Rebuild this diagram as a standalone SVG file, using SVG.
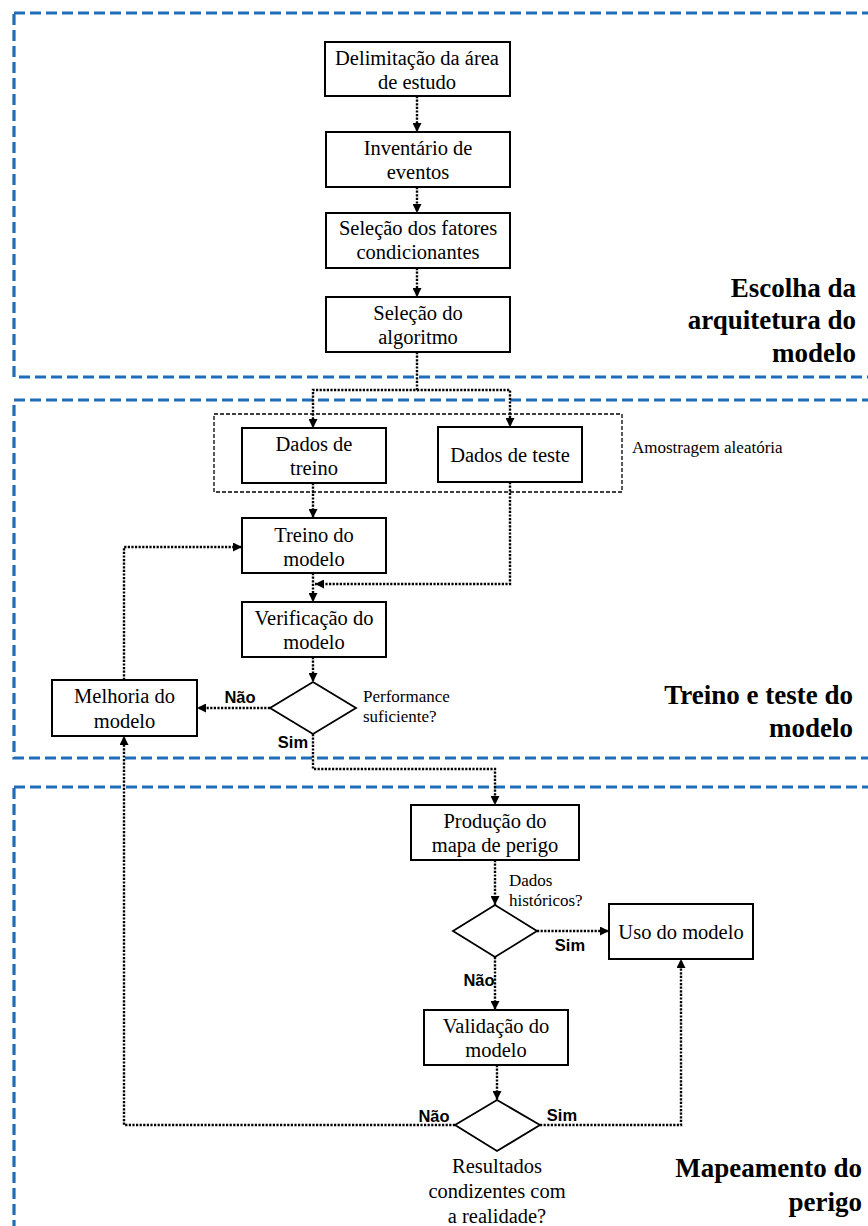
<svg xmlns="http://www.w3.org/2000/svg" width="868" height="1226" viewBox="0 0 868 1226">
  <style>
    .phase { fill: none; stroke: #1f6db7; stroke-width: 3.2; stroke-dasharray: 11 5; }
    .box { fill: #ffffff; stroke: #000000; stroke-width: 2; }
    .dec { fill: #ffffff; stroke: #000000; stroke-width: 1.8; }
    .grp { fill: none; stroke: #000000; stroke-width: 1.3; stroke-dasharray: 4 2; }
    .lbl { font-family: "Liberation Serif", "Times New Roman", serif; font-size: 20.5px; fill: #000000; text-anchor: middle; }
    .note { font-family: "Liberation Serif", "Times New Roman", serif; font-size: 17px; fill: #000000; }
    .phase-title { font-family: "Liberation Serif", "Times New Roman", serif; font-size: 27px; font-weight: bold; fill: #000000; text-anchor: end; }
    .yn { font-family: "Liberation Sans", Arial, sans-serif; font-size: 16.5px; font-weight: bold; fill: #000000; text-anchor: middle; }
    .flow { fill: none; stroke: #000000; stroke-width: 2.4; stroke-dasharray: 2.2 1.4; }
    .flow.arr { marker-end: url(#arrow); }
  </style>
  <defs>
    <marker id="arrow" viewBox="0 0 10 10" refX="10" refY="5" markerWidth="9" markerHeight="9" markerUnits="userSpaceOnUse" orient="auto">
      <path d="M0,0 L10,5 L0,10 z" fill="#000000"/>
    </marker>
  </defs>

  <rect width="868" height="1226" fill="#ffffff"/>

  <!-- phase frames (right edge runs off the page) -->
  <g id="phases">
    <rect class="phase" x="14" y="13" width="858" height="364"/>
    <rect class="phase" x="14" y="400" width="858" height="358"/>
    <rect class="phase" x="14" y="787" width="858" height="460"/>
  </g>

  <!-- phase titles -->
  <g id="phase-titles">
    <text class="phase-title" x="856" y="297">Escolha da</text>
    <text class="phase-title" x="856" y="329">arquitetura do</text>
    <text class="phase-title" x="856" y="362">modelo</text>
    <text class="phase-title" x="853" y="704">Treino e teste do</text>
    <text class="phase-title" x="853" y="737">modelo</text>
    <text class="phase-title" x="862" y="1177">Mapeamento do</text>
    <text class="phase-title" x="862" y="1211">perigo</text>
  </g>

  <!-- random sampling group -->
  <g id="sampling">
    <rect class="grp" x="214" y="414" width="408" height="78"/>
    <text class="note" x="632" y="453">Amostragem aleatória</text>
  </g>

  <!-- connectors -->
  <g id="connectors">
    <path class="flow arr" d="M417,96 V132"/>
    <path class="flow arr" d="M417,187 V213"/>
    <path class="flow arr" d="M417,268 V297"/>
    <path class="flow arr" d="M417,352 V390 H313 V428"/>
    <path class="flow arr" d="M417,390 H510 V427"/>
    <path class="flow arr" d="M313,483 V518"/>
    <path class="flow arr" d="M510,482 V584 H315"/>
    <path class="flow arr" d="M313,573 V602"/>
    <path class="flow arr" d="M313,657 V682"/>
    <path class="flow arr" d="M270,708 H197"/>
    <path class="flow arr" d="M124,680 V547 H242"/>
    <path class="flow arr" d="M313,734 V769 H495 V805"/>
    <path class="flow arr" d="M495,860 V905"/>
    <path class="flow arr" d="M537,931 H609"/>
    <path class="flow arr" d="M495,957 V1010"/>
    <path class="flow arr" d="M497,1065 V1100"/>
    <path class="flow arr" d="M455,1125 H124 V736"/>
    <path class="flow arr" d="M540,1125 H681 V959"/>
  </g>

  <!-- decision branch labels -->
  <g id="branch-labels">
    <text class="yn" x="240" y="703">Não</text>
    <text class="yn" x="293" y="748">Sim</text>
    <text class="yn" x="570" y="951">Sim</text>
    <text class="yn" x="479" y="986">Não</text>
    <text class="yn" x="434" y="1122">Não</text>
    <text class="yn" x="562" y="1121">Sim</text>
  </g>

  <g id="delimitacao">
    <rect class="box" x="325" y="42" width="185" height="54"/>
    <text class="lbl" x="417" y="65">Delimitação da área</text>
    <text class="lbl" x="417" y="89">de estudo</text>
  </g>
  <g id="inventario">
    <rect class="box" x="326" y="132" width="184" height="55"/>
    <text class="lbl" x="418" y="155">Inventário de</text>
    <text class="lbl" x="418" y="179">eventos</text>
  </g>
  <g id="fatores">
    <rect class="box" x="326" y="213" width="184" height="55"/>
    <text class="lbl" x="418" y="235">Seleção dos fatores</text>
    <text class="lbl" x="418" y="259">condicionantes</text>
  </g>
  <g id="algoritmo">
    <rect class="box" x="326" y="297" width="184" height="55"/>
    <text class="lbl" x="418" y="320">Seleção do</text>
    <text class="lbl" x="418" y="344">algoritmo</text>
  </g>
  <g id="dados-treino">
    <rect class="box" x="242" y="428" width="144" height="55"/>
    <text class="lbl" x="314" y="451">Dados de</text>
    <text class="lbl" x="314" y="475">treino</text>
  </g>
  <g id="dados-teste">
    <rect class="box" x="438" y="427" width="144" height="55"/>
    <text class="lbl" x="510" y="461.5">Dados de teste</text>
  </g>
  <g id="treino">
    <rect class="box" x="242" y="518" width="144" height="55"/>
    <text class="lbl" x="314" y="541.5">Treino do</text>
    <text class="lbl" x="314" y="566">modelo</text>
  </g>
  <g id="verificacao">
    <rect class="box" x="242" y="602" width="144" height="55"/>
    <text class="lbl" x="314" y="625">Verificação do</text>
    <text class="lbl" x="314" y="649">modelo</text>
  </g>
  <g id="performance">
    <polygon class="dec" points="313,682 356,708 313,734 270,708"/>
    <text class="note" x="363" y="702">Performance</text>
    <text class="note" x="363" y="722">suficiente?</text>
  </g>
  <g id="melhoria">
    <rect class="box" x="52" y="680" width="145" height="56"/>
    <text class="lbl" x="124.5" y="703">Melhoria do</text>
    <text class="lbl" x="124.5" y="728">modelo</text>
  </g>
  <g id="producao">
    <rect class="box" x="411" y="805" width="168" height="55"/>
    <text class="lbl" x="495" y="828">Produção do</text>
    <text class="lbl" x="495" y="852">mapa de perigo</text>
  </g>
  <g id="historicos">
    <polygon class="dec" points="495,905 537,931 495,957 453,931"/>
    <text class="note" x="509" y="885.5">Dados</text>
    <text class="note" x="509" y="906">históricos?</text>
  </g>
  <g id="uso">
    <rect class="box" x="609" y="904" width="144" height="55"/>
    <text class="lbl" x="681" y="938.5">Uso do modelo</text>
  </g>
  <g id="validacao">
    <rect class="box" x="424" y="1010" width="144" height="55"/>
    <text class="lbl" x="496" y="1033">Validação do</text>
    <text class="lbl" x="496" y="1057">modelo</text>
  </g>
  <g id="resultados">
    <polygon class="dec" points="497,1100 540,1125 497,1151 455,1125"/>
    <text class="lbl" x="497" y="1173">Resultados</text>
    <text class="lbl" x="497" y="1198">condizentes com</text>
    <text class="lbl" x="497" y="1223">a realidade?</text>
  </g>
</svg>
